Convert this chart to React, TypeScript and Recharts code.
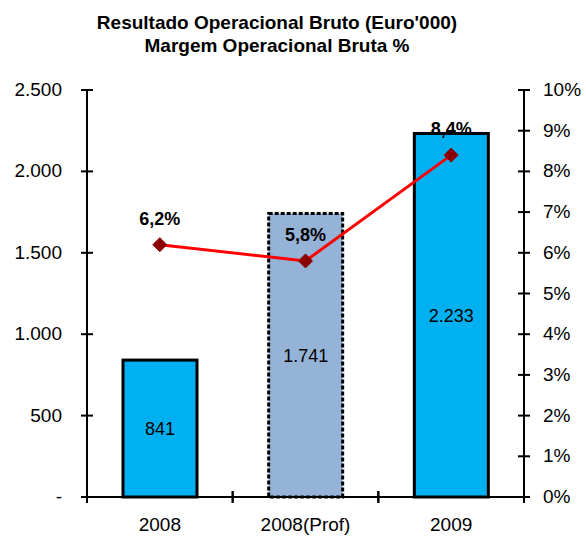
import { Bar, ComposedChart, LabelList, Line, XAxis, YAxis } from "recharts";

const categories = ["2008", "2008(Prof)", "2009"];
const resultado = [841, 1741, 2233];
const margem = [6.2, 5.8, 8.4];
const leftTicks = [0, 500, 1000, 1500, 2000, 2500];
const rightTicks = [0, 1, 2, 3, 4, 5, 6, 7, 8, 9, 10];
const barColors = ["#00B0F0", "#95B3D7", "#00B0F0"];

const data = categories.map((name, i) => ({
  name,
  resultado: resultado[i],
  margem: margem[i],
  color: barColors[i],
  dashed: name.includes("Prof"),
}));

const FONT = "'Liberation Sans', Arial, sans-serif";
const BAND_HALF = (524 - 87) / 6;

const fmtThousands = (v: number) =>
  v === 0 ? "-" : String(v).replace(/\B(?=(\d{3})+(?!\d))/g, ".");

function LeftTick({ x, y, payload }: any) {
  return (
    <g>
      <line x1={x - 6} x2={x + 6} y1={y} y2={y} stroke="#000" strokeWidth={2} />
      <text x={x - 25} y={y} dy={6} textAnchor="end" fontSize={19} fill="#000" fontFamily={FONT}>
        {fmtThousands(payload.value)}
      </text>
    </g>
  );
}

function RightTick({ x, y, payload }: any) {
  return (
    <g>
      <line x1={x - 6} x2={x + 6} y1={y} y2={y} stroke="#000" strokeWidth={2} />
      <text x={x + 19} y={y} dy={6} textAnchor="start" fontSize={19} fill="#000" fontFamily={FONT}>
        {payload.value + "%"}
      </text>
    </g>
  );
}

function BottomTick({ x, y, payload }: any) {
  return (
    <g>
      <line x1={x - BAND_HALF} x2={x - BAND_HALF} y1={y - 6} y2={y + 6} stroke="#000" strokeWidth={2} />
      <line x1={x + BAND_HALF} x2={x + BAND_HALF} y1={y - 6} y2={y + 6} stroke="#000" strokeWidth={2} />
      <text x={x} y={y + 34} textAnchor="middle" fontSize={19} fill="#000" fontFamily={FONT}>
        {payload.value}
      </text>
    </g>
  );
}

function BarShape(props: any) {
  const { x, y, width, height, payload } = props;
  return (
    <rect
      x={x}
      y={y}
      width={width}
      height={height}
      fill={payload.color}
      stroke="#000"
      strokeWidth={3}
      strokeDasharray={payload.dashed ? "4 2" : undefined}
    />
  );
}

function Diamond({ cx, cy }: any) {
  const r = 7;
  return (
    <path
      d={`M${cx},${cy - r} L${cx + r},${cy} L${cx},${cy + r} L${cx - r},${cy} Z`}
      fill="#8B0000"
      stroke="#8B0000"
      strokeWidth={1}
      strokeLinejoin="round"
    />
  );
}

export default function App() {
  return (
    <div style={{ position: "absolute", left: 0, top: 0, width: 586, height: 537, background: "#fff", fontFamily: FONT }}>
      <div
        style={{
          position: "absolute",
          left: 0,
          top: 11,
          width: 554,
          textAlign: "center",
          fontWeight: "bold",
          fontSize: 19,
          lineHeight: "23px",
          color: "#000",
        }}
      >
        Resultado Operacional Bruto (Euro'000)
        <br />
        Margem Operacional Bruta %
      </div>
      <ComposedChart
        width={586}
        height={537}
        data={data}
        margin={{ top: 90, right: 0, bottom: 0, left: 0 }}
      >
        <XAxis
          dataKey="name"
          height={40}
          axisLine={{ stroke: "#000", strokeWidth: 2 }}
          tickLine={false}
          tickSize={0}
          tickMargin={0}
          tick={<BottomTick />}
          interval={0}
        />
        <YAxis
          yAxisId="left"
          width={87}
          domain={[0, 2500]}
          ticks={leftTicks}
          axisLine={{ stroke: "#000", strokeWidth: 2 }}
          tickLine={false}
          tickSize={0}
          tickMargin={0}
          tick={<LeftTick />}
          interval={0}
        />
        <YAxis
          yAxisId="right"
          orientation="right"
          width={62}
          domain={[0, 10]}
          ticks={rightTicks}
          axisLine={{ stroke: "#000", strokeWidth: 2 }}
          tickLine={false}
          tickSize={0}
          tickMargin={0}
          tick={<RightTick />}
          interval={0}
        />
        <Bar
          yAxisId="left"
          dataKey="resultado"
          barSize={74}
          shape={<BarShape />}
          isAnimationActive={false}
        >
          <LabelList
            dataKey="resultado"
            position="center"
            formatter={(v: any) => fmtThousands(Number(v))}
            style={{ fontSize: 18, fill: "#000", fontFamily: FONT }}
          />
        </Bar>
        <Line
          yAxisId="right"
          dataKey="margem"
          stroke="#FF0000"
          strokeWidth={3}
          dot={<Diamond />}
          activeDot={false}
          isAnimationActive={false}
        >
          <LabelList
            dataKey="margem"
            position="top"
            offset={20}
            formatter={(v: any) => String(v).replace(".", ",") + "%"}
            style={{ fontSize: 18, fontWeight: "bold", fill: "#000", fontFamily: FONT }}
          />
        </Line>
      </ComposedChart>
    </div>
  );
}
